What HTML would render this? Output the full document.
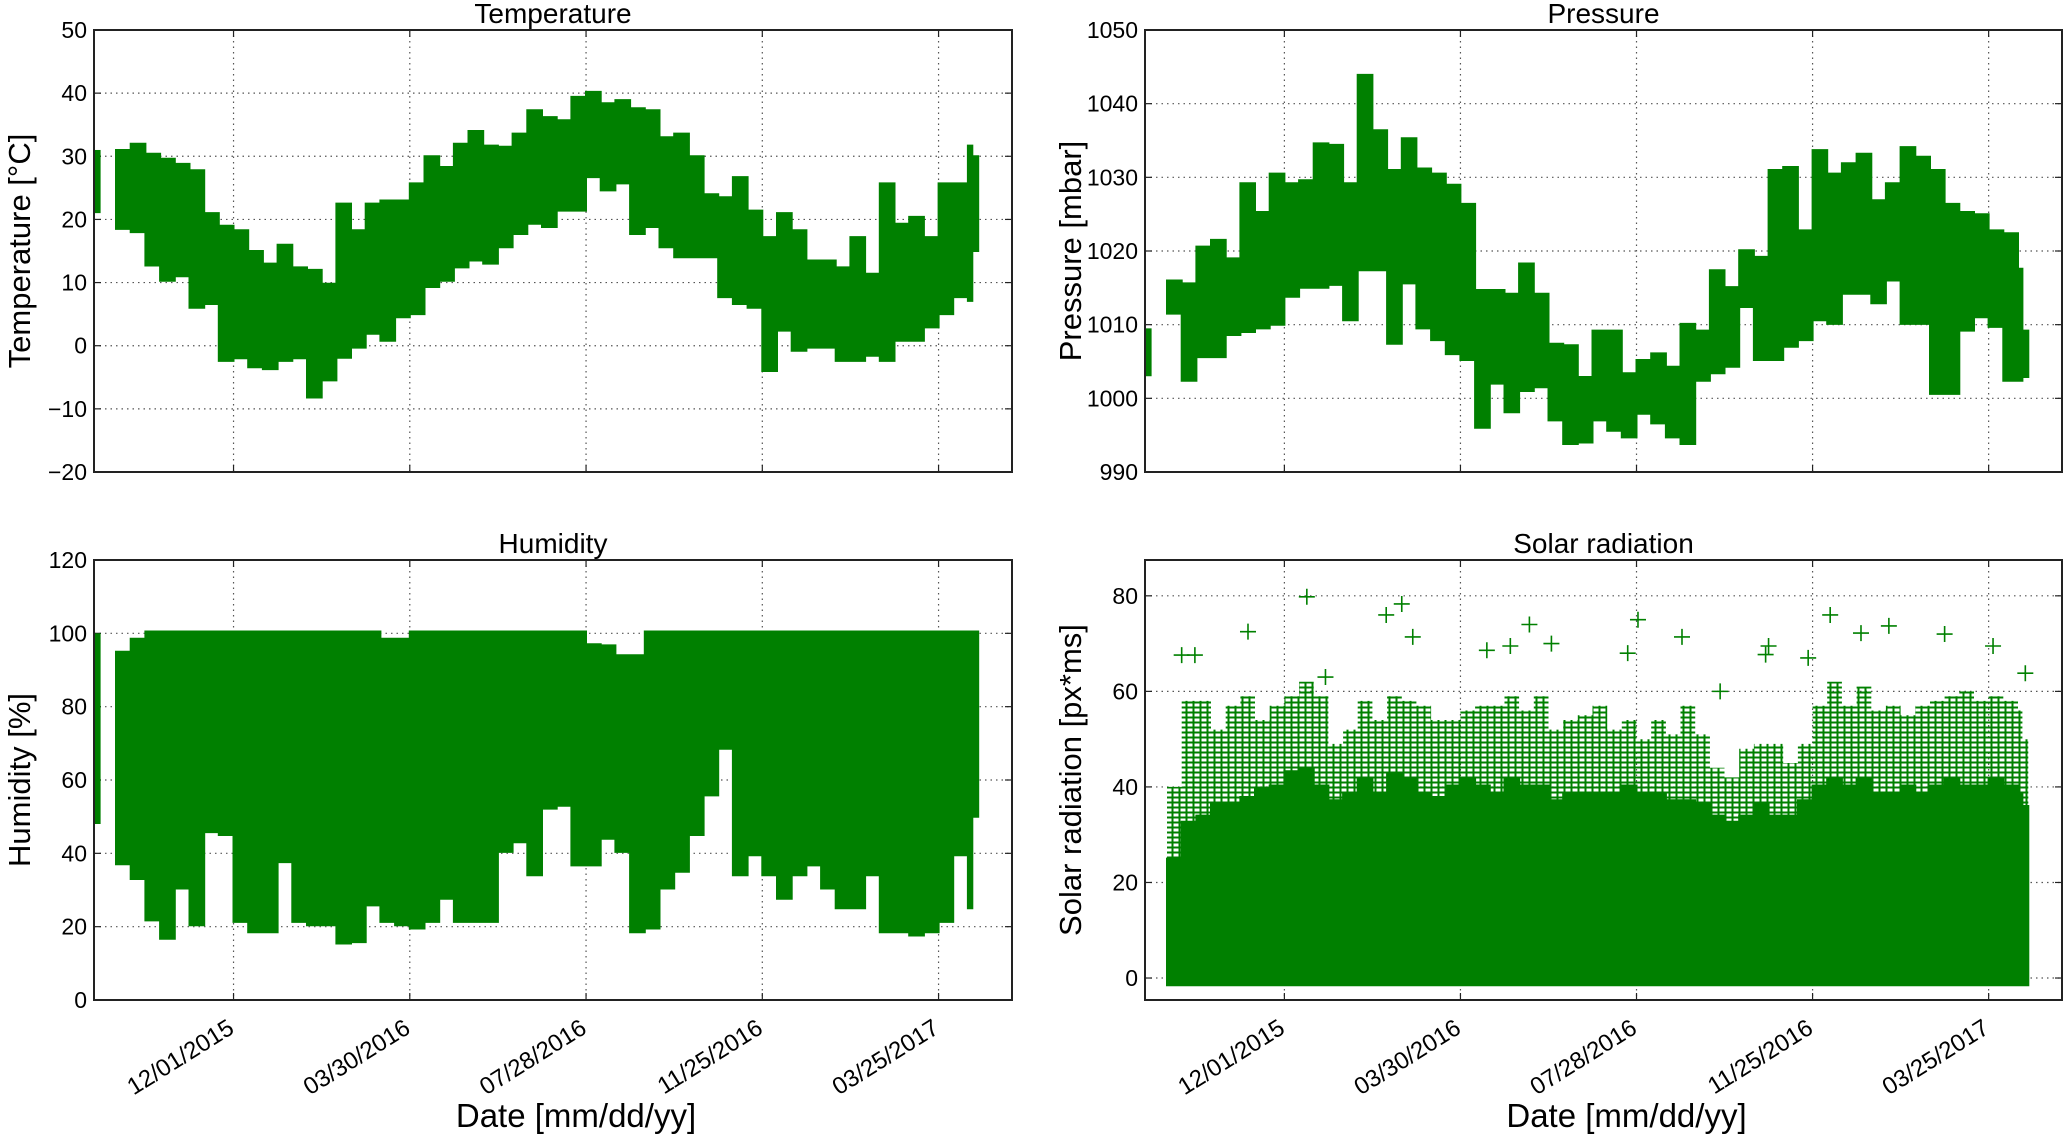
<!DOCTYPE html>
<html><head><meta charset="utf-8">
<style>
html,body{margin:0;padding:0;background:#fff;}
svg{display:block;font-family:"Liberation Sans","DejaVu Sans",sans-serif;}
</style></head>
<body>
<svg id="fig" width="2067" height="1137" viewBox="0 0 2067 1137" xmlns="http://www.w3.org/2000/svg">
<defs>
<pattern id="crossPat" width="7" height="5" patternUnits="userSpaceOnUse">
<path d="M0,2.5H7M3.5,0V5" stroke="#008000" stroke-width="2"/>
</pattern>
</defs>
</svg>
<script>
// ---- shared x categories: days relative to 12/01/2015 ----
const days = [-80,-70,-60,-50,-40,-30,-20,-10,0,10,20,30,40,50,60,70,80,90,100,110,120,130,140,150,160,170,180,190,200,210,220,230,240,250,260,270,280,290,300,310,320,330,340,350,360,370,380,390,400,410,420,430,440,450,460,470,480,490,500,503];
const xTickDays = [0,120,240,360,480];
const xTickLabels = ["12/01/2015","03/30/2016","07/28/2016","11/25/2016","03/25/2017"];

// ---- Temperature ----
const tempMax = [31,32,30.4,29.6,28.8,27.8,21,19,18.3,15,13,16,12.4,12,9.8,22.5,18.3,22.5,23,23,25.7,30,28.3,32,34,31.7,31.5,33.6,37.3,36.2,35.7,39.4,40.2,38.4,38.9,37.6,37.3,33,33.6,30,24,23.5,26.7,21.4,17.2,21,18.3,13.5,13.5,12.4,17.2,11.4,25.7,19.3,20.4,17.2,25.7,25.7,31.7,30];
const tempMin = [18.5,18,12.7,10.3,11,6,6.6,-2.4,-2,-3.4,-3.7,-2.4,-2,-8.2,-5.5,-1.9,-0.3,1.9,0.8,4.5,5,9.3,10.3,12.4,13.5,13,15.6,17.7,19.3,18.8,21.4,21.4,26.7,24.6,25.7,17.7,18.8,15.6,14,14,14,7.7,6.6,6,-4,2.4,-0.8,-0.3,-0.3,-2.4,-2.4,-1.6,-2.4,0.8,0.8,2.9,5,7.7,7.1,15];
const tempStart = [21,31];

// ---- Pressure ----
const presMax = [1016,1015.6,1020.6,1021.5,1019,1029.2,1025.3,1030.5,1029.2,1029.6,1034.6,1034.4,1029.2,1043.9,1036.4,1031,1035.3,1031.2,1030.5,1029,1026.4,1014.7,1014.7,1014.2,1018.3,1014.2,1007.4,1007.2,1002.9,1009.2,1009.2,1003.4,1005.2,1006.1,1004.3,1010.1,1009.2,1017.4,1015.1,1020.1,1019.2,1031,1031.4,1022.8,1033.7,1030.5,1031.9,1033.2,1026.9,1029.2,1034.1,1032.8,1031,1026.4,1025.3,1025,1022.8,1022.4,1017.6,1009.2];
const presMin = [1011.5,1002.4,1005.6,1005.6,1008.6,1009,1009.5,1010,1013.8,1015,1015,1015.4,1010.6,1017.4,1017.4,1007.4,1015.6,1009.5,1007.9,1006,1005.2,996,1002,998.1,1001,1001.5,997,993.8,994,997,995.6,994.7,997.9,996.6,994.7,993.8,1002.4,1003.4,1004.3,1012.4,1005.2,1005.2,1007,1007.9,1010.6,1010.1,1014.2,1014.2,1012.9,1016,1010.1,1010.1,1000.6,1000.6,1009.2,1011,1009.7,1002.4,1002.4,1002.9];
const presStart = [1003,1009.5];

// ---- Humidity ----
const humMax = [95,98.5,100.5,100.5,100.5,100.5,100.5,100.5,100.5,100.5,100.5,100.5,100.5,100.5,100.5,100.5,100.5,100.5,98.5,98.5,100.5,100.5,100.5,100.5,100.5,100.5,100.5,100.5,100.5,100.5,100.5,100.5,97,96.7,94,94,100.5,100.5,100.5,100.5,100.5,100.5,100.5,100.5,100.5,100.5,100.5,100.5,100.5,100.5,100.5,100.5,100.5,100.5,100.5,100.5,100.5,100.5,100.5,100.5];
const humMin = [37,33,21.7,16.7,30.4,20.4,45.8,45,21.3,18.5,18.5,37.6,21.3,20.4,20.4,15.4,15.8,25.8,21.3,20.4,19.5,21.3,27.6,21.3,21.3,21.3,40.4,43,34,52.2,53,36.7,36.7,44,40.4,18.5,19.5,30.4,35,45,55.8,68.5,34,39.5,34,27.6,34,36.7,30.4,25,25,34,18.5,18.5,17.6,18.5,21.3,39.5,25,50];
const humStart = [48,100];

// ---- Solar radiation ----
const solarDense = [25,32.7,34,36.5,36.5,37.9,39.5,40.3,43.3,44,40.3,37.2,38.8,41.8,38.8,42.6,41.8,38.8,37.9,40.3,41.8,40.3,38.8,41.8,40.3,40.3,37.2,38.8,38.8,38.8,38.8,40.3,38.8,38.8,37.2,37.2,36.5,34,32.7,34,36.5,34,34,37.2,40.3,41.8,40.3,41.8,38.8,38.8,40.3,38.8,40.3,41.8,40.3,40.3,41.8,40.3,38.8,36];
const solarPeak = [40,58,58,52,57,59,54,57,59,62,59,49,52,58,54,59,58,57,54,54,56,57,57,59,56,59,52,54,55,57,52,54,50,54,51,57,51,44,42,48,49,49,45,49,57,62,57,61,56,57,55,57,58,59,60,58,59,58,56,50];
const solarMin = -1.5;
const outlierDays = [15.3,80,69.4,-24.8,167,241,271,330,372,393,412,483,505,154,138,234,328,357,87.5,-61,28,-70,182,297,450];
const outlierVals = [79.8,78.3,76,72.5,74,75,71.4,69.5,76,72.2,73.7,69.5,63.8,69.5,68.6,68,67.7,67,71.4,67.6,63,67.6,70,60,72];

const svg = document.getElementById('fig');
const NS = 'http://www.w3.org/2000/svg';
const DMIN = -95, DMAX = 530, DEND = 507;
const GREEN = '#008000';

function mk(tag, attrs, parent){
  const e = document.createElementNS(NS, tag);
  for (const k in attrs) e.setAttribute(k, attrs[k]);
  (parent||svg).appendChild(e);
  return e;
}

const panels = {
  temp:{L:94,R:1012,T:30,B:472,ymin:-20,ymax:50,ticks:[-20,-10,0,10,20,30,40,50],title:'Temperature',ylabel:'Temperature [°C]',xlab:false},
  pres:{L:1145,R:2062,T:30,B:472,ymin:990,ymax:1050,ticks:[990,1000,1010,1020,1030,1040,1050],title:'Pressure',ylabel:'Pressure [mbar]',xlab:false},
  hum:{L:94,R:1012,T:560,B:1000,ymin:0,ymax:120,ticks:[0,20,40,60,80,100,120],title:'Humidity',ylabel:'Humidity [%]',xlab:true},
  sol:{L:1145,R:2062,T:560,B:1000,ymin:-4.6,ymax:87.5,ticks:[0,20,40,60,80],title:'Solar radiation',ylabel:'Solar radiation [px*ms]',xlab:true}
};
function xs(p,d){return p.L + (d-DMIN)/(DMAX-DMIN)*(p.R-p.L);}
function ys(p,v){return p.B - (v-p.ymin)/(p.ymax-p.ymin)*(p.B-p.T);}

function drawAxes(key){
  const p = panels[key];
  const g = mk('g',{});
  
  
  xTickDays.forEach((d,i)=>{
    const x = xs(p,d);
    const l = mk('line',{x1:x,x2:x,y1:p.T,y2:p.B,stroke:'#555','stroke-width':1.2,'stroke-dasharray':'1.5,4'},g);
    
    
    mk('line',{x1:x,x2:x,y1:p.B,y2:p.B-7,stroke:'#222','stroke-width':1.2},g);
    mk('line',{x1:x,x2:x,y1:p.T,y2:p.T+7,stroke:'#222','stroke-width':1.2},g);
    if (p.xlab){
      const t = mk('text',{x:0,y:0,'text-anchor':'end','font-size':24,fill:'#000',
        transform:'translate('+(x+2)+','+(p.B+32)+') rotate(-32)'},g);
      t.textContent = xTickLabels[i];
      
      
    }
  });
  p.ticks.forEach(v=>{
    const y = ys(p,v);
    if (v!==p.ymin && v!==p.ymax){
      const l = mk('line',{x1:p.L,x2:p.R,y1:y,y2:y,stroke:'#555','stroke-width':1.2,'stroke-dasharray':'1.5,4'},g);
      
      
    }
    mk('line',{x1:p.L,x2:p.L+7,y1:y,y2:y,stroke:'#222','stroke-width':1.2},g);
    mk('line',{x1:p.R,x2:p.R-7,y1:y,y2:y,stroke:'#222','stroke-width':1.2},g);
    const t = mk('text',{x:p.L-7,y:y+8,'text-anchor':'end','font-size':23,fill:'#000'},g);
    t.textContent = v<0 ? '\u2212'+Math.abs(v) : String(v);
    
    
  });
  const tt = mk('text',{x:(p.L+p.R)/2,y:p.T-7,'text-anchor':'middle','font-size':28,fill:'#000'},g);
  tt.textContent = p.title;
  
  
  const yl = mk('text',{x:0,y:0,'text-anchor':'middle','font-size':31,fill:'#000',
    transform:'translate('+(p.L-64)+','+((p.T+p.B)/2)+') rotate(-90)'},g);
  yl.textContent = p.ylabel;
  
  
  if (p.xlab){
    const xl = mk('text',{x:(p.L+p.R)/2+23,y:1127,'text-anchor':'middle','font-size':33,fill:'#000'},g);
    xl.textContent = 'Date [mm/dd/yy]';
    
    
  }
}
function drawFrame(key){
  const p = panels[key];
  const r = mk('rect',{x:p.L,y:p.T,width:p.R-p.L,height:p.B-p.T,fill:'none',stroke:'#222','stroke-width':2});
  
  
}

function bandPath(p, hi, lo){
  let top = '', bot = [];
  days.forEach((d,i)=>{
    const nd = i < days.length-1 ? days[i+1] : DEND;
    const x0 = xs(p,d), x1 = xs(p,nd);
    top += (i===0?'M':'L')+x0.toFixed(1)+','+ys(p,hi[i]).toFixed(1)+'L'+x1.toFixed(1)+','+ys(p,hi[i]).toFixed(1);
    bot.unshift('L'+x1.toFixed(1)+','+ys(p,lo[i]).toFixed(1)+'L'+x0.toFixed(1)+','+ys(p,lo[i]).toFixed(1));
  });
  return top + bot.join('') + 'Z';
}
function drawBand(key, hi, lo, start, name){
  const p = panels[key];
  const path = mk('path',{d:bandPath(p,hi,lo),fill:GREEN,stroke:GREEN,'stroke-width':2,'stroke-linejoin':'miter'});
  
  
  if (start){
    const r = mk('rect',{x:xs(p,-95),y:ys(p,start[1]),width:xs(p,-90.5)-xs(p,-95),height:ys(p,start[0])-ys(p,start[1]),fill:GREEN});
    
    
  }
}

['temp','pres','hum','sol'].forEach(drawAxes);
drawBand('temp', tempMax, tempMin, tempStart, 'temperature-series');
drawBand('pres', presMax, presMin, presStart, 'pressure-series');
drawBand('hum', humMax, humMin, humStart, 'humidity-series');

(function(){
  const p = panels.sol;
  const lo = days.map(()=>solarMin);
  const sparse = mk('path',{d:bandPath(p,solarPeak,lo),fill:'url(#crossPat)',stroke:'none'});
  
  
  const dense = mk('path',{d:bandPath(p,solarDense,lo),fill:GREEN,stroke:GREEN,'stroke-width':2});
  
  
  outlierDays.forEach((d,i)=>{
    const x = xs(p,d), y = ys(p,outlierVals[i]);
    const c = mk('path',{d:'M'+(x-8)+','+y+'H'+(x+8)+'M'+x+','+(y-8)+'V'+(y+8),stroke:GREEN,'stroke-width':1.6,fill:'none'});
    
    
  });
})();
['temp','pres','hum','sol'].forEach(drawFrame);
</script>
</body></html>
